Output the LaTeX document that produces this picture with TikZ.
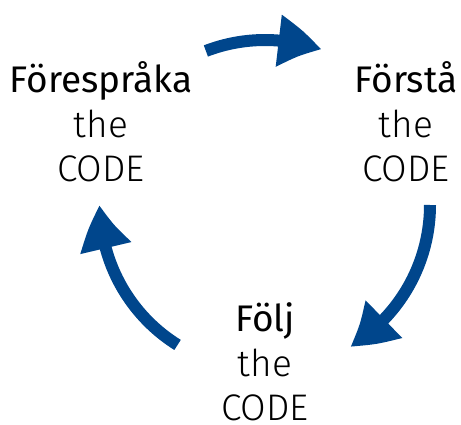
\documentclass[tikz,border=0pt]{standalone}
\usepackage{fontspec}
\setmainfont{Fira Sans}
\newfontfamily\lightfont{Fira Sans}[UprightFont=* Light]
\usetikzlibrary{arrows.meta,bending,calc}
\definecolor{cycleblue}{RGB}{0,70,140}
\tikzset{
  cyc/.style={draw=cycleblue, line width=12pt, line cap=butt,
    -{Triangle[length=44pt,width=49pt,bend]}},
  headtxt/.style={anchor=base, inner sep=0pt, font=\fontsize{37}{44}\selectfont},
  subtxt/.style={anchor=base, inner sep=0pt, font=\lightfont\fontsize{37}{44}\selectfont}
}
\begin{document}
\begin{tikzpicture}[x=1pt,y=1pt]
\useasboundingbox (0,0) rectangle (461,424);
\node[headtxt] (fore0) at (101,331.7){Förespråka};
\node[subtxt] (fore1) at (101,286.5){the};
\node[subtxt] (fore2) at (101,243){CODE};
\node[headtxt] (forst0) at (406,331.7){Förstå};
\node[subtxt] (forst1) at (406,286.5){the};
\node[subtxt] (forst2) at (406,243){CODE};
\node[headtxt] (folj0) at (265,93){Följ};
\node[subtxt] (folj1) at (265,48){the};
\node[subtxt] (folj2) at (265,4){CODE};
% arrows round the circle, centre (265,219), radius 165
\coordinate (c) at (265,219);
\coordinate (t0) at ($(c)+(111:165)$);
\coordinate (t1) at ($(c)+(0:165)$);
\coordinate (t2) at ($(c)+(238:165)$);
\draw[cyc] (t0) arc[start angle=111, end angle=70, radius=165];
\draw[cyc] (t1) arc[start angle=0, end angle=-59, radius=165];
\draw[cyc] (t2) arc[start angle=238, end angle=180, radius=165];
\end{tikzpicture}
\end{document}
